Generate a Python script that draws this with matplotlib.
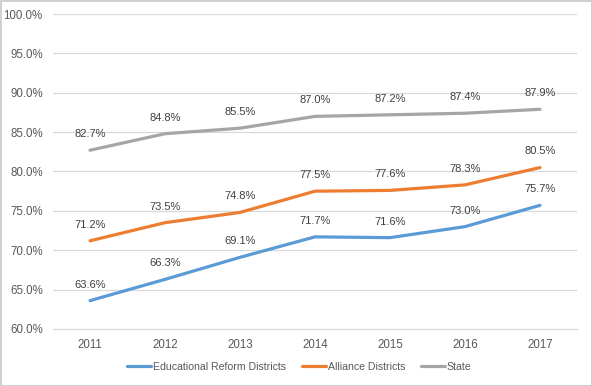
import matplotlib.pyplot as plt
from matplotlib.ticker import FuncFormatter

years = ["2011", "2012", "2013", "2014", "2015", "2016", "2017"]
reform = [63.6, 66.3, 69.1, 71.7, 71.6, 73.0, 75.7]
alliance = [71.2, 73.5, 74.8, 77.5, 77.6, 78.3, 80.5]
state = [82.7, 84.8, 85.5, 87.0, 87.2, 87.4, 87.9]

series = [
    ("Educational Reform Districts", reform, "#5B9BD5"),
    ("Alliance Districts", alliance, "#ED7D31"),
    ("State", state, "#A5A5A5"),
]

plt.rcParams['font.family'] = ['Liberation Sans', 'DejaVu Sans']
txt = "#595959"

fig = plt.figure(figsize=(5.92, 3.86), dpi=100)
fig.patch.set_edgecolor("#D0D0D0")
fig.patch.set_linewidth(2)
ax = fig.add_axes([0.0887, 0.1477, 0.8868, 0.816])

x = list(range(len(years)))
for name, vals, col in series:
    ax.plot(x, vals, color=col, linewidth=2.3, label=name, solid_capstyle="round")
    for xi, v in zip(x, vals):
        ax.annotate(f"{v:.1f}%", (xi, v), xytext=(0, 8), textcoords="offset points",
                    ha="center", va="bottom", fontsize=8, color="#404040")

ax.set_xlim(-0.5, len(years) - 0.5)
ax.set_ylim(60, 100)
ax.set_yticks(range(60, 101, 5))
ax.yaxis.set_major_formatter(FuncFormatter(lambda v, p: f"{v:.1f}%"))
ax.set_xticks(x)
ax.set_xticklabels(years)
ax.grid(axis="y", color="#D9D9D9", linewidth=0.9)
ax.set_axisbelow(True)
for s in ax.spines.values():
    s.set_visible(False)
ax.spines["bottom"].set_visible(True)
ax.spines["bottom"].set_color("#D9D9D9")
ax.tick_params(length=0, labelsize=8.3, colors=txt, pad=7)

ax.legend(loc="upper center", bbox_to_anchor=(0.47, -0.075), ncol=3, frameon=False,
          fontsize=7.6, labelcolor=txt, handlelength=2.3, handletextpad=0.15,
          columnspacing=1.5)

fig.savefig("out.png", dpi=100, edgecolor=fig.get_edgecolor())
